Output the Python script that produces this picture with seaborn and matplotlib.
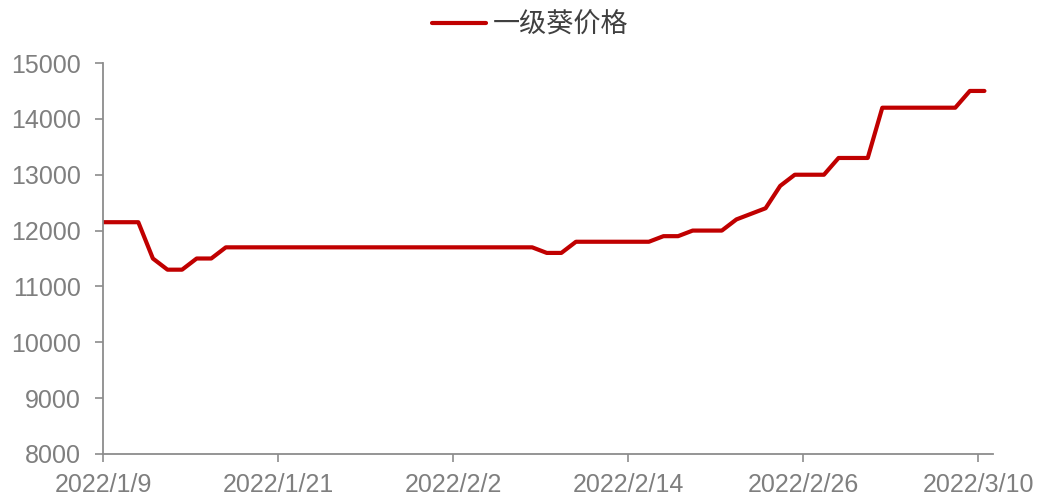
import pandas as pd
import seaborn as sns
import matplotlib.pyplot as plt


# -------------------------------------------------
# Data (daily price)
# -------------------------------------------------

start_date = "2022-01-08"
end_date = "2022-03-10"

prices = [
    12150,                                   # 1/8
    12150, 12150, 12150,                     # 1/9 - 1/11
    11500,                                   # 1/12
    11300, 11300,                            # 1/13 - 1/14
    11500, 11500,                            # 1/15 - 1/16
    11700, 11700, 11700, 11700, 11700, 11700, 11700, 11700,
    11700, 11700, 11700, 11700, 11700, 11700, 11700, 11700,
    11700, 11700, 11700, 11700, 11700, 11700,  # 1/17 - 2/7
    11600, 11600,                            # 2/8 - 2/9
    11800, 11800, 11800, 11800, 11800, 11800,  # 2/10 - 2/15
    11900, 11900,                            # 2/16 - 2/17
    12000, 12000, 12000,                     # 2/18 - 2/20
    12200,                                   # 2/21
    12300,                                   # 2/22
    12400,                                   # 2/23
    12800,                                   # 2/24
    13000, 13000, 13000,                     # 2/25 - 2/27
    13300, 13300, 13300,                     # 2/28 - 3/2
    14200, 14200, 14200, 14200, 14200, 14200,  # 3/3 - 3/8
    14500, 14500,                            # 3/9 - 3/10
]

series_name = "一级葵价格"

x_tick_dates = ["2022-01-09", "2022-01-21", "2022-02-02",
                "2022-02-14", "2022-02-26", "2022-03-10"]
x_tick_labels = ["2022/1/9", "2022/1/21", "2022/2/2",
                 "2022/2/14", "2022/2/26", "2022/3/10"]
y_ticks = [8000, 9000, 10000, 11000, 12000, 13000, 14000, 15000]


# -------------------------------------------------
# Style
# -------------------------------------------------

sns.set_style("white")
plt.rcParams['font.family'] = ['Liberation Sans', 'Noto Sans CJK SC', 'DejaVu Sans']

LINE_COLOR = "#C00000"
AXIS_COLOR = "#8C8C8C"
LABEL_COLOR = "#7F7F7F"
LEGEND_COLOR = "#404040"


def main():

    # points sit slightly past midnight, like the Excel date axis
    dates = pd.date_range(start_date, end_date, freq="D") + pd.Timedelta(hours=10)
    df = pd.DataFrame({"date": dates, "price": prices})

    fig = plt.figure(figsize=(10.43, 4.99), dpi=100)
    ax = fig.add_axes([0.0988, 0.0902, 0.8532, 0.7835])

    sns.lineplot(data=df, x="date", y="price", color=LINE_COLOR,
                 linewidth=3.0, label=series_name, ax=ax)

    ax.set_xlim(pd.Timestamp("2022-01-09"), pd.Timestamp("2022-03-11"))
    ax.set_ylim(8000, 15000)

    ax.set_xticks(pd.to_datetime(x_tick_dates))
    ax.set_xticklabels(x_tick_labels)
    ax.set_yticks(y_ticks)
    ax.set_yticklabels([str(v) for v in y_ticks])

    ax.set_xlabel("")
    ax.set_ylabel("")
    ax.grid(False)

    for loc, spine in ax.spines.items():
        if loc in ["left", "bottom"]:
            spine.set_visible(True)
            spine.set_color(AXIS_COLOR)
            spine.set_linewidth(1.3)
        else:
            spine.set_visible(False)

    ax.tick_params(axis="both", direction="out", length=6, width=1.2,
                   color=AXIS_COLOR, labelcolor=LABEL_COLOR, labelsize=18)
    ax.tick_params(axis="x", pad=8)
    ax.tick_params(axis="y", pad=10)
    ax.yaxis.set_ticks_position("left")
    ax.xaxis.set_ticks_position("bottom")

    leg = ax.legend(loc="upper center", bbox_to_anchor=(0.48, 1.195),
                    frameon=False, handlelength=2.0, handletextpad=0.25,
                    prop={"family": ["Noto Sans CJK SC", "DejaVu Sans"], "size": 19.5})
    for text in leg.get_texts():
        text.set_color(LEGEND_COLOR)

    fig.savefig("out.png", dpi=100)
    plt.close(fig)


if __name__ == "__main__":
    main()
